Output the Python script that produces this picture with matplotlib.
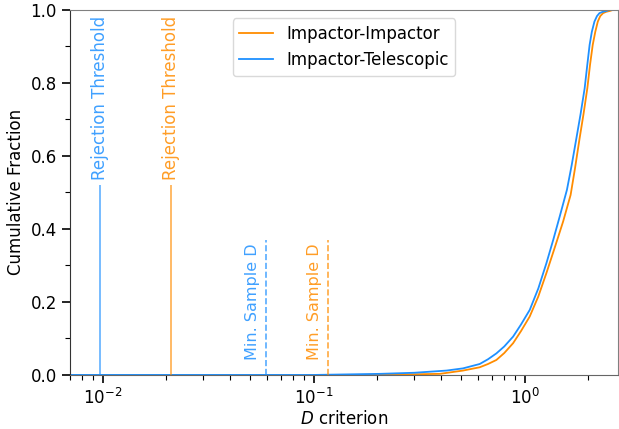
import numpy as np
import matplotlib
matplotlib.use('Agg')
from matplotlib import pyplot as plt

# cumulative distributions
d_ii = [0.007, 0.15, 0.25, 0.396, 0.51, 0.612, 0.67, 0.734, 0.80, 0.881, 0.96, 1.056,
        1.16, 1.267, 1.39, 1.52, 1.65, 1.73, 1.82, 1.90, 1.98, 2.04, 2.10, 2.16, 2.22,
        2.28, 2.35, 2.44, 2.53, 2.62, 2.8]
frac_ii = [0.0, 0.0, 0.001, 0.003, 0.012, 0.021, 0.030, 0.041, 0.060, 0.087, 0.12, 0.160,
           0.215, 0.279, 0.35, 0.42, 0.493, 0.565, 0.648, 0.715, 0.785, 0.85, 0.904, 0.94,
           0.968, 0.983, 0.991, 0.995, 0.997, 1.0, 1.0]

d_it = [0.007, 0.10, 0.206, 0.30, 0.426, 0.51, 0.612, 0.67, 0.734, 0.80, 0.881, 0.96,
        1.056, 1.16, 1.267, 1.365, 1.465, 1.585, 1.67, 1.757, 1.84, 1.923, 1.98, 2.03,
        2.08, 2.14, 2.20, 2.26, 2.35, 2.44, 2.52, 2.8]
frac_it = [0.0, 0.0, 0.003, 0.006, 0.012, 0.018, 0.030, 0.043, 0.059, 0.078, 0.105, 0.138,
           0.178, 0.237, 0.306, 0.37, 0.434, 0.507, 0.575, 0.648, 0.715, 0.785, 0.85, 0.904,
           0.94, 0.968, 0.983, 0.991, 0.995, 0.997, 1.0, 1.0]

labels = ['Impactor-Impactor', 'Impactor-Telescopic']
colors = ['darkorange', 'dodgerblue']
reject_d = [0.021, 0.0097]
min_sample_d = [0.1167, 0.0593]

fig = plt.figure(figsize=(6.19, 4.29), dpi=100)
ax = fig.add_axes([0.113, 0.126, 0.885, 0.851])

ax.plot(d_ii, frac_ii, color=colors[0], lw=1.3, label=labels[0])
ax.plot(d_it, frac_it, color=colors[1], lw=1.3, label=labels[1])

for x, c in zip(reject_d, colors):
    ax.vlines(x, 0, 0.52, color=c, lw=1.2, alpha=0.7)
    ax.text(x, 0.535, 'Rejection Threshold', rotation=90, color=c, alpha=0.85,
            ha='center', va='bottom', fontsize=12)

for x, c in zip(min_sample_d, colors):
    ax.vlines(x, 0, 0.37, color=c, lw=1.2, ls='--', alpha=0.75)
    ax.annotate('Min. Sample D', (x, 0.04), xytext=(-4, 0), textcoords='offset points',
                rotation=90, color=c, alpha=0.85, ha='right', va='bottom', fontsize=11.5)

ax.set_xscale('log')
ax.set_xlim(0.0070, 2.76)
ax.set_ylim(0, 1)
ax.set_yticks([0.0, 0.2, 0.4, 0.6, 0.8, 1.0])
ax.set_yticks(np.arange(0.1, 1.0, 0.2), minor=True)
ax.set_xlabel(r'$D$ criterion', fontsize=12, labelpad=1)
ax.set_ylabel('Cumulative Fraction', fontsize=12)
ax.tick_params(which='major', direction='out', length=6, width=1.2, labelsize=12)
ax.tick_params(which='minor', direction='out', length=3.5, width=0.8)

ax.spines['top'].set_color('0.5')
ax.spines['right'].set_color('0.5')
ax.spines['left'].set_color('0.2')
ax.spines['bottom'].set_color('0.4')

ax.legend(loc='upper center', fontsize=12, framealpha=1, edgecolor='0.85')

fig.savefig('out.png', dpi=100)
